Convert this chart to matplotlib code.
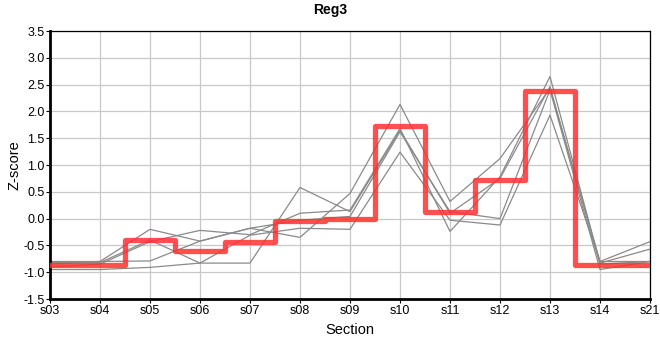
import matplotlib
matplotlib.use("Agg")
import matplotlib.pyplot as plt
from matplotlib import font_manager

sections = ["s03", "s04", "s05", "s06", "s07", "s08", "s09", "s10", "s11", "s12", "s13", "s14", "s21"]

gray_series = [
    [-0.82, -0.82, -0.40, -0.83, -0.83, 0.58, 0.13, 1.65, 0.10, 0.75, 2.46, -0.85, -0.80],
    [-0.85, -0.80, -0.20, -0.42, -0.18, -0.35, 0.47, 2.13, 0.32, 1.12, 2.43, -0.80, -0.43],
    [-0.90, -0.85, -0.43, -0.22, -0.30, 0.10, 0.16, 1.68, -0.24, 0.78, 2.65, -0.83, -0.57],
    [-0.80, -0.80, -0.79, -0.42, -0.18, -0.03, 0.04, 1.62, 0.13, 0.00, 2.40, -0.95, -0.80],
    [-0.95, -0.95, -0.91, -0.83, -0.31, -0.18, -0.20, 1.24, -0.03, -0.12, 1.93, -0.80, -0.80],
]

red_values = [-0.87, -0.87, -0.40, -0.60, -0.43, -0.05, 0.00, 1.72, 0.13, 0.72, 2.38, -0.87, -0.87]

yticks = [-1.5, -1.0, -0.5, 0.0, 0.5, 1.0, 1.5, 2.0, 2.5, 3.0, 3.5]

available = {f.name for f in font_manager.fontManager.ttflist}
fam = "Liberation Sans Narrow" if "Liberation Sans Narrow" in available else "Liberation Sans"
plt.rcParams["font.family"] = [fam, "DejaVu Sans"]

fig = plt.figure(figsize=(6.6, 3.6), dpi=100)
ax = fig.add_axes([50/660, 1-299/360, 600/660, (299-31)/360])

x = list(range(len(sections)))
for s in gray_series:
    ax.plot(x, s, color="#8a8a8a", lw=0.9, zorder=2)

ax.step(x, red_values, where="mid", color="#ff3030", alpha=0.85, lw=3.8,
        solid_joinstyle="round", zorder=3)

ax.set_xlim(0, len(sections) - 1)
ax.set_ylim(-1.5, 3.5)
ax.set_xticks(x)
ax.set_xticklabels(sections, fontsize=9)
ax.set_yticks(yticks)
ax.set_yticklabels([f"{v:.1f}" for v in yticks], fontsize=9)
ax.grid(True, color="#c8c8c8", lw=0.9, zorder=0)
ax.set_axisbelow(True)
for side in ["top", "right"]:
    ax.spines[side].set_linewidth(0.9)
for side in ["left", "bottom"]:
    ax.spines[side].set_linewidth(2.0)
ax.tick_params(axis="both", length=3, width=0.8, pad=1)

ax.set_xlabel("Section", fontsize=10.5, labelpad=5)
ax.set_ylabel("Z-score", fontsize=10.5, labelpad=1)
fig.text(0.5, 1-10/360, "Reg3", ha="center", va="center", fontsize=10, fontweight="bold",
         family=["Liberation Sans", "DejaVu Sans"])

fig.savefig("out.png", dpi=100)
